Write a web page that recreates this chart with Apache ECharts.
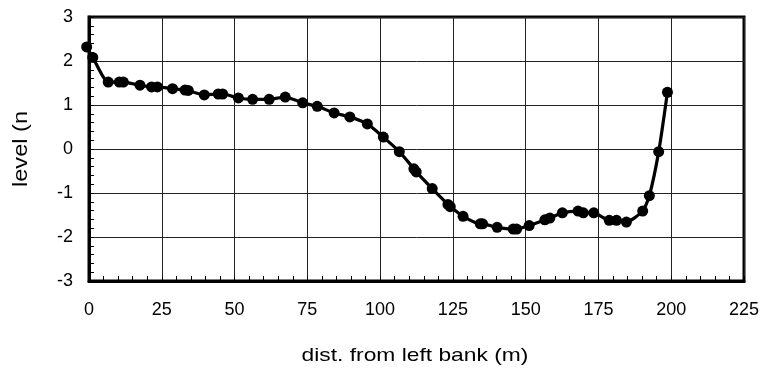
<!DOCTYPE html>
<html>
<head>
<meta charset="utf-8">
<script src="https://cdn.jsdelivr.net/npm/echarts@6/dist/echarts.min.js"></script>
<style>
  html, body { margin: 0; padding: 0; background: #fff; }
  #chart { width: 768px; height: 372px; }
</style>
</head>
<body>
<div id="chart"></div>
<script>
// Cross-section survey: bed level against distance from the left bank
const distance = [-0.8, 1.3, 6.6, 10.4, 11.8, 17.5, 21.5, 23.5, 28.7, 33.0, 34.1, 39.6, 44.4, 45.9,
  51.3, 56.2, 61.9, 67.4, 73.4, 78.4, 84.2, 89.6, 95.6, 101.1, 106.6, 111.6, 112.4, 117.9,
  123.3, 124.1, 128.5, 134.4, 135.2, 140.2, 145.7, 146.9, 151.2, 156.6, 158.3, 162.6,
  168.0, 169.8, 173.4, 178.7, 181.2, 184.6, 190.2, 192.5, 195.7, 198.7];
const level = [2.32, 2.08, 1.52, 1.52, 1.52, 1.45, 1.41, 1.41, 1.37, 1.34, 1.33, 1.23, 1.25, 1.25,
  1.16, 1.13, 1.13, 1.18, 1.05, 0.97, 0.82, 0.73, 0.57, 0.27, -0.06, -0.45, -0.52, -0.90,
  -1.26, -1.31, -1.53, -1.70, -1.70, -1.78, -1.82, -1.82, -1.74, -1.61, -1.57, -1.45,
  -1.41, -1.45, -1.45, -1.62, -1.62, -1.66, -1.41, -1.06, -0.06, 1.29];

const xTicks = { min: 0, max: 225, step: 25 };
const yTicks = { min: -3, max: 3, step: 1 };

const xTitle = 'dist. from left bank (m)';
const yTitle = 'level (n';

const font = "'Liberation Sans', Arial, sans-serif";

const chart = echarts.init(document.getElementById('chart'), null, { renderer: 'canvas' });

chart.setOption({
  animation: false,
  backgroundColor: '#ffffff',
  grid: {
    left: 89, right: 24, top: 17, bottom: 91,
    show: true, borderColor: '#000', borderWidth: 3, backgroundColor: 'transparent'
  },
  xAxis: {
    type: 'value',
    min: xTicks.min, max: xTicks.max, interval: xTicks.step,
    axisLine: { show: true, onZero: false, lineStyle: { color: '#000', width: 3 } },
    axisTick: { show: true, inside: true, length: 5, lineStyle: { color: '#000', width: 1 } },
    minorTick: { show: true, splitNumber: 5, length: 5, lineStyle: { color: '#000', width: 1 } },
    axisLabel: { fontFamily: font, fontSize: 18, color: '#000', margin: 20 },
    splitLine: { show: true, lineStyle: { color: '#222', width: 1 } }
  },
  yAxis: {
    type: 'value',
    min: yTicks.min, max: yTicks.max, interval: yTicks.step,
    axisLine: { show: true, onZero: false, lineStyle: { color: '#000', width: 3 } },
    axisTick: { show: true, inside: true, length: 5, lineStyle: { color: '#000', width: 1 } },
    minorTick: { show: true, splitNumber: 5, length: 5, lineStyle: { color: '#000', width: 1 } },
    axisLabel: { fontFamily: font, fontSize: 18, color: '#000', margin: 16 },
    splitLine: { show: true, lineStyle: { color: '#222', width: 1 } }
  },
  graphic: [{
    // vertical axis title, set in a slightly widened face
    type: 'text',
    x: 21, y: 149,
    rotation: Math.PI / 2,
    scaleX: 1.18,
    style: {
      text: yTitle, font: '20px ' + font, fill: '#000',
      textAlign: 'center', textVerticalAlign: 'middle'
    }
  }, {
    // horizontal axis title
    type: 'text',
    x: 415, y: 356,
    scaleX: 1.2,
    style: {
      text: xTitle, font: '19px ' + font, fill: '#000',
      textAlign: 'center', textVerticalAlign: 'middle'
    }
  }],
  series: [{
    type: 'line',
    data: distance.map((d, i) => [d, level[i]]),
    smooth: 0.2,
    clip: false,
    symbol: 'circle',
    symbolSize: 11,
    showAllSymbol: true,
    lineStyle: { color: '#000', width: 3.2 },
    itemStyle: { color: '#000' }
  }]
});
</script>
</body>
</html>
